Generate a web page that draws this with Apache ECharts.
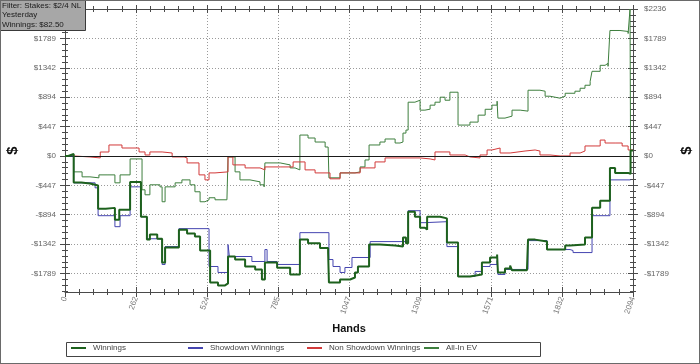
<!DOCTYPE html>
<html>
<head>
<meta charset="utf-8">
<script src="https://cdn.jsdelivr.net/npm/echarts@6/dist/echarts.min.js"></script>
<style>
  html, body { margin: 0; padding: 0; background: #fff; }
  #wrap { position: relative; width: 700px; height: 364px; }
  #chart { position: absolute; left: 0; top: 0; width: 700px; height: 364px; }
  #frame { position: absolute; left: 0; top: 0; width: 700px; height: 364px; box-sizing: border-box; border: 1px solid #6a6a6a; pointer-events: none; }
</style>
</head>
<body>
<div id="wrap"><div id="chart"></div><div id="frame"></div></div>
<script>
// ---- data (hand number, cumulative $) ----
const seriesNames = ['Winnings', 'Showdown Winnings', 'Non Showdown Winnings', 'All-In EV'];
const xTicks = [0, 262, 524, 785, 1047, 1309, 1571, 1832, 2094];
const yTicks = [-1789, -1342, -894, -447, 0, 447, 894, 1342, 1789, 2236];
const xRange = [0, 2094];
const yRange = [-2070, 2236];
const infoLines = ['Filter: Stakes: $2/4 NL', 'Yesterday', 'Winnings: $82.50'];

const winnings = [[0,0],[12,30],[32,-405],[60,-420],[92,-450],[122,-803],[150,-790],[184,-970],[200,-818],[240,-395],[280,-924],[302,-1273],[313,-1197],[340,-1260],[358,-1621],[369,-1394],[420,-1121],[450,-1180],[479,-1227],[498,-1440],[535,-1924],[564,-1970],[590,-1940],[601,-1530],[627,-1576],[664,-1682],[701,-1727],[726,-1879],[737,-1621],[782,-1700],[830,-1803],[866,-1273],[896,-1330],[940,-1400],[970,-1470],[973,-1924],[1014,-1879],[1051,-1850],[1069,-1773],[1080,-1682],[1121,-1348],[1161,-1364],[1217,-1379],[1246,-1242],[1257,-1330],[1265,-848],[1290,-924],[1309,-1091],[1327,-1121],[1335,-924],[1383,-950],[1408,-1318],[1449,-1833],[1493,-1803],[1537,-1621],[1567,-1545],[1593,-1500],[1596,-1773],[1622,-1712],[1641,-1667],[1648,-1740],[1703,-1727],[1707,-1273],[1733,-1300],[1777,-1424],[1844,-1364],[1862,-1348],[1917,-1242],[1943,-788],[1973,-682],[2009,-182],[2028,-258],[2076,-273],[2085,82.5],[2094,82.5]];

const showdown = [[0,0],[32,-409],[111,-485],[122,-909],[184,-1076],[203,-909],[240,-470],[280,-924],[302,-1260],[340,-1270],[358,-1651],[369,-1379],[420,-1106],[531,-1682],[564,-1773],[601,-1348],[606,-1530],[689,-1606],[737,-1424],[745,-1606],[782,-1651],[866,-1167],[973,-1576],[988,-1682],[1014,-1773],[1032,-1697],[1058,-1545],[1125,-1303],[1265,-833],[1309,-1015],[1327,-1000],[1408,-1379],[1449,-1833],[1512,-1757],[1537,-1682],[1567,-1651],[1593,-1591],[1596,-1803],[1622,-1727],[1707,-1288],[1777,-1424],[1862,-1439],[1873,-1470],[1943,-909],[2009,-364],[2085,-364]];

const nonShowdown = [[0,0],[32,-15],[92,-30],[130,60],[162,167],[210,121],[273,61],[295,15],[313,61],[358,45],[395,-15],[439,-30],[450,-106],[494,-288],[516,-364],[531,-258],[553,-242],[601,-15],[619,-136],[664,-182],[719,-212],[737,-167],[793,-167],[841,-91],[866,-91],[885,-212],[922,-258],[977,-348],[1014,-258],[1051,-258],[1088,-182],[1143,-91],[1180,-30],[1235,-30],[1309,-45],[1346,-61],[1364,61],[1419,15],[1475,-15],[1493,-30],[1530,15],[1556,91],[1574,121],[1604,45],[1641,75],[1696,91],[1733,75],[1751,15],[1788,0],[1825,0],[1862,45],[1899,75],[1917,152],[1954,152],[1973,242],[1991,197],[2028,197],[2054,152],[2076,91],[2094,82.5]];

const allInEV = [[0,0],[32,-242],[63,-318],[92,-333],[125,-288],[155,-288],[184,-409],[203,-288],[240,-45],[284,-515],[295,-591],[313,-439],[350,-470],[358,-697],[369,-470],[406,-409],[431,-364],[461,-439],[479,-545],[498,-697],[516,-667],[531,-636],[553,-667],[597,-697],[601,-15],[627,-242],[645,-364],[682,-394],[719,-439],[734,-470],[737,-106],[793,-136],[830,-182],[848,-212],[866,318],[896,273],[922,212],[959,136],[970,121],[973,-333],[1014,-258],[1069,-242],[1088,-167],[1106,-61],[1121,167],[1161,212],[1180,258],[1217,197],[1235,212],[1246,348],[1257,394],[1265,818],[1290,848],[1309,697],[1327,712],[1346,773],[1364,818],[1383,894],[1401,848],[1419,970],[1438,970],[1449,470],[1493,515],[1523,621],[1549,710],[1574,773],[1593,833],[1596,576],[1622,606],[1648,697],[1678,682],[1707,1000],[1751,985],[1770,909],[1788,879],[1825,909],[1844,954],[1880,985],[1899,1030],[1917,1076],[1936,1136],[1943,1288],[1973,1379],[1991,1409],[2002,1364],[2009,1909],[2046,1894],[2076,1863],[2083,2236],[2085,82.5],[2094,82.5]];

// ---- minor tick positions (subdivide major intervals) ----
function minorTicks(ticks, parts, lo, hi) {
  const out = [];
  const step = (ticks[1] - ticks[0]) / parts;
  for (let i = 0; i < ticks.length - 1; i++) {
    const s = (ticks[i + 1] - ticks[i]) / parts;
    for (let k = 1; k < parts; k++) out.push(ticks[i] + s * k);
  }
  for (let v = ticks[0] - step; v >= lo; v -= step) out.push(v);
  for (let v = ticks[ticks.length - 1] + step; v <= hi; v += step) out.push(v);
  return out;
}
const xMinor = minorTicks(xTicks, 5, xRange[0], xRange[1]);
const yMinor = minorTicks(yTicks, 5, yRange[0], yRange[1]);

const FONT = 'Liberation Sans, Arial, sans-serif';
const AX = '#4a4a4a';

function tickAxis(position, range, values, half) {
  return {
    type: 'value', position: position, min: range[0], max: range[1], offset: -half,
    silent: true,
    axisLine: { show: false, onZero: false },
    axisLabel: { show: false },
    splitLine: { show: false },
    axisTick: { show: true, length: half * 2, customValues: values, lineStyle: { color: AX, width: 1 } }
  };
}
function mainAxis(position, range, ticks, extra) {
  return Object.assign({
    type: 'value', position: position, min: range[0], max: range[1],
    axisLine: { show: true, onZero: false, lineStyle: { color: AX, width: 1 } },
    axisTick: { show: false, customValues: ticks },
    axisLabel: { show: false },
    splitLine: { show: false }
  }, extra || {});
}
const dollar = v => (v < 0 ? '-$' : '$') + Math.abs(Math.round(v));
const splitStyle = { show: true, lineStyle: { color: '#9a9a9a', type: [1, 2], width: 1 } };

const xAxes = [
  mainAxis('bottom', xRange, xTicks, {
    name: 'Hands', nameLocation: 'middle', nameGap: 31,
    nameTextStyle: { fontFamily: FONT, fontSize: 11, fontWeight: 'bold', color: '#111' },
    axisLabel: { show: true, customValues: xTicks, rotate: 70, fontSize: 8, color: '#777', fontFamily: FONT, margin: 5, formatter: v => String(Math.round(v)) },
    splitLine: splitStyle
  }),
  tickAxis('bottom', xRange, xTicks, 5),
  tickAxis('bottom', xRange, xMinor, 3),
  mainAxis('top', xRange, xTicks),
  tickAxis('top', xRange, xTicks, 4),
  tickAxis('top', xRange, xMinor, 3)
];
const yAxes = [
  mainAxis('left', yRange, yTicks, {
    name: '$', nameLocation: 'middle', nameGap: 42, nameRotate: 90,
    nameTextStyle: { fontFamily: FONT, fontSize: 15, fontWeight: 'bold', color: '#111' },
    axisLabel: { show: true, customValues: yTicks, fontSize: 8, color: '#666', fontFamily: FONT, margin: 9, formatter: dollar },
    splitLine: splitStyle
  }),
  tickAxis('left', yRange, yTicks, 5),
  tickAxis('left', yRange, yMinor, 3),
  mainAxis('right', yRange, yTicks, {
    name: '$', nameLocation: 'middle', nameGap: 46, nameRotate: 90,
    nameTextStyle: { fontFamily: FONT, fontSize: 15, fontWeight: 'bold', color: '#111' },
    axisLabel: { show: true, customValues: yTicks, fontSize: 8, color: '#666', fontFamily: FONT, margin: 11, formatter: dollar }
  }),
  tickAxis('right', yRange, yTicks, 5),
  tickAxis('right', yRange, yMinor, 3)
];

const colors = ['#1d611d', '#4545b0', '#d23a3a', '#3e7f3e'];
const datasets = [winnings, showdown, nonShowdown, allInEV];
const widths = [2, 1, 1, 1];
const zs = [6, 5, 4, 3];

const series = seriesNames.map((name, i) => {
  const s = {
    name: name, type: 'line', step: 'end', data: datasets[i],
    xAxisIndex: 0, yAxisIndex: 0,
    showSymbol: false, symbol: 'none', z: zs[i],
    color: colors[i],
    lineStyle: { color: colors[i], width: widths[i] },
    animation: false
  };
  if (i === 3) {
    s.markLine = {
      silent: true, symbol: ['none', 'none'], label: { show: false },
      lineStyle: { color: '#1a1a1a', type: 'solid', width: 1 },
      data: [{ yAxis: 0 }], animation: false
    };
  }
  return s;
});

// one legend entry per column, columns laid out like the original legend strip
const legendLeft = [71, 188, 307, 424];
const legends = seriesNames.map((name, i) => ({
  data: [name], left: legendLeft[i], top: 344, orient: 'horizontal',
  icon: 'rect', itemWidth: 15, itemHeight: 2, padding: 0,
  selectedMode: false,
  textStyle: { fontFamily: FONT, fontSize: 8, color: '#444', padding: [0, 0, 0, 2] }
}));

const chart = echarts.init(document.getElementById('chart'), null, { renderer: 'canvas' });
chart.setOption({
  animation: false,
  backgroundColor: '#fff',
  title: {
    text: infoLines.join('\n'), left: 0, top: 0,
    padding: [1, 5, 1, 2],
    backgroundColor: '#a7a7a7', borderColor: '#3a3a3a', borderWidth: 1,
    textStyle: { fontFamily: FONT, fontSize: 8, fontWeight: 'normal', color: '#1a1a1a', lineHeight: 9.5 }
  },
  grid: { left: 65, right: 67, top: 9, bottom: 72, containLabel: false, outerBoundsMode: 'none' },
  graphic: [{
    type: 'rect', left: 66, top: 342, z: -1, silent: true,
    shape: { width: 474, height: 14 },
    style: { fill: '#fff', stroke: '#444', lineWidth: 1 }
  }],
  legend: legends,
  xAxis: xAxes,
  yAxis: yAxes,
  series: series
});
</script>
</body>
</html>
